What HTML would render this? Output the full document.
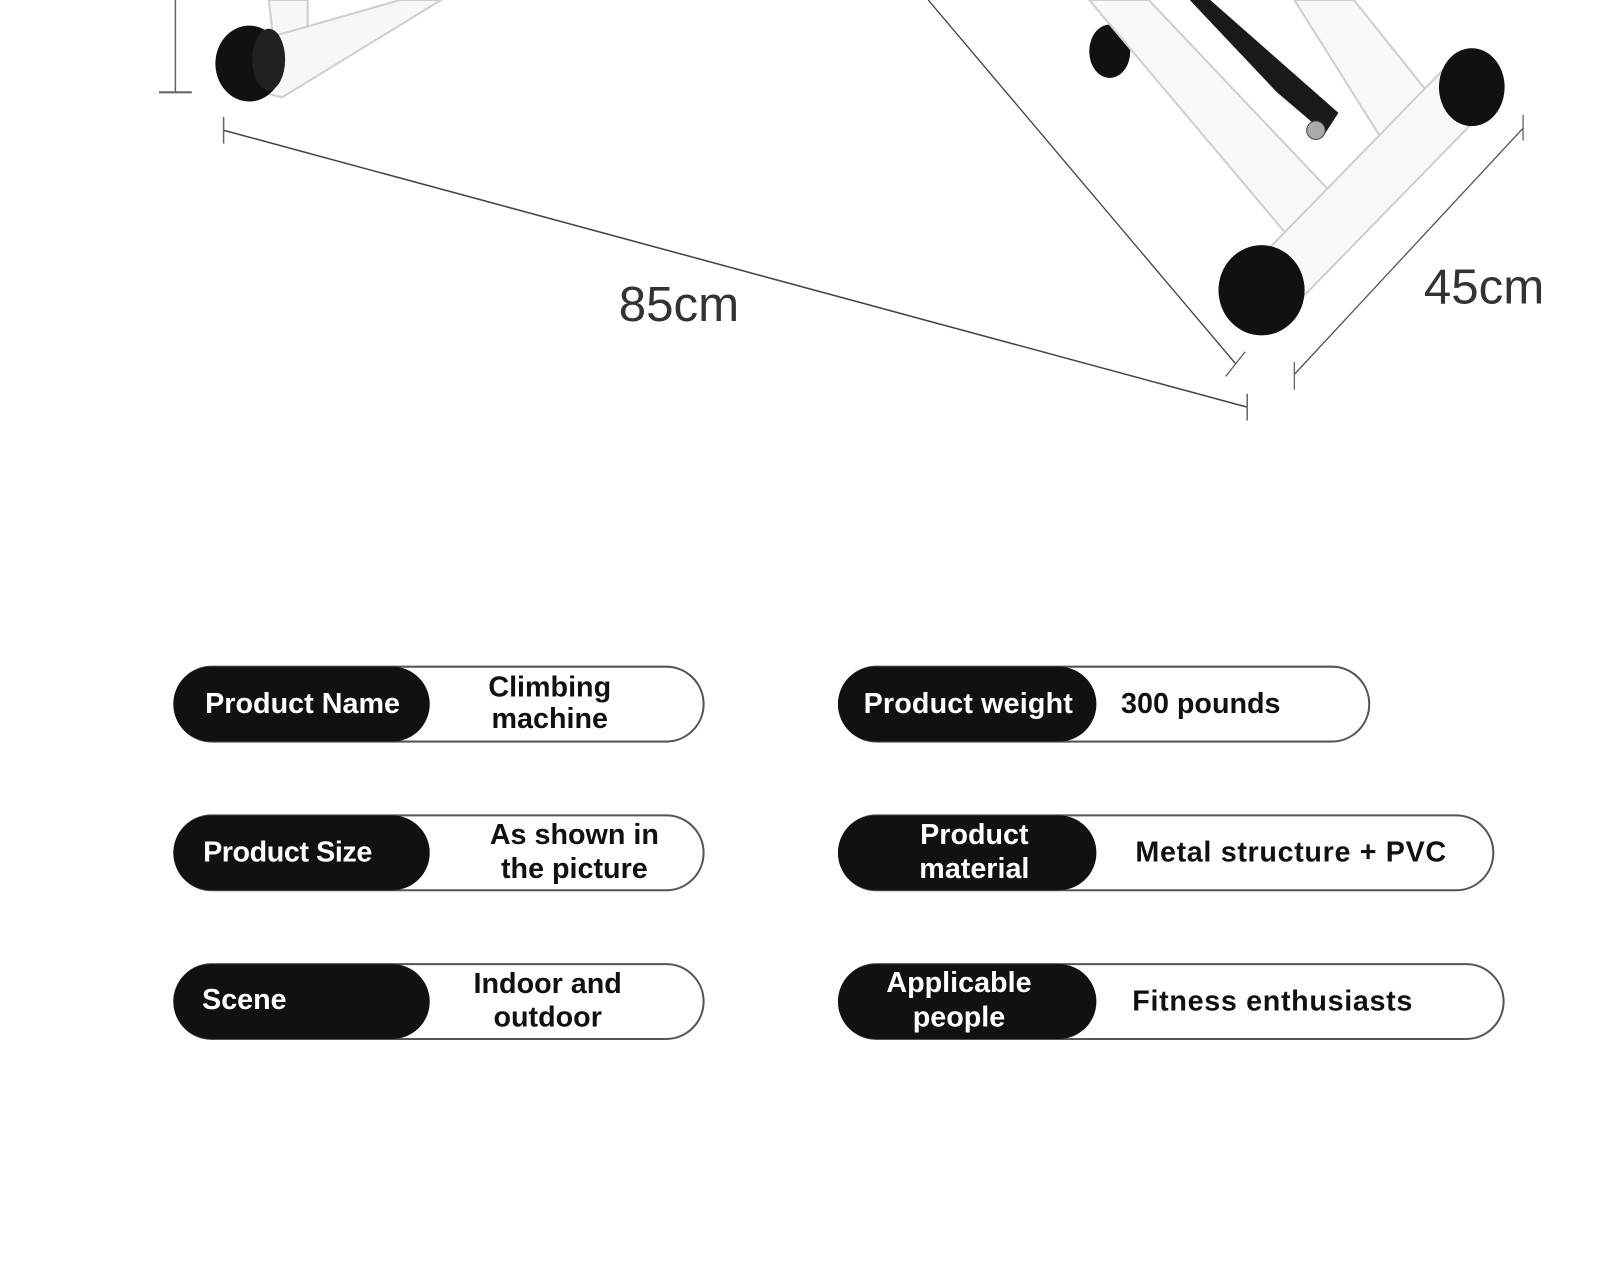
<!DOCTYPE html>
<html><head><meta charset="utf-8"><style>
html,body{margin:0;padding:0;background:#fff;}
svg{display:block;}
text{font-family:"Liberation Sans",sans-serif;}
</style></head><body>
<svg width="1600" height="1280" viewBox="0 0 1560 1248" xmlns="http://www.w3.org/2000/svg">
<rect width="1560" height="1248" fill="#fff"/>
<!-- left frame -->
<g stroke="#cfcfcf" stroke-width="2" fill="#f7f7f7">
  <polygon points="262,0 300,0 300,40 268,50"/>
  <polygon points="250,40 390,0 430,0 275,95 255,90"/>
</g>
<ellipse cx="243" cy="62" rx="33" ry="37" fill="#111"/>
<ellipse cx="262" cy="58" rx="16" ry="30" fill="#222"/>
<!-- left vertical dim -->
<line x1="171" y1="0" x2="171" y2="90" stroke="#666" stroke-width="1.5"/>
<line x1="155" y1="90" x2="187" y2="90" stroke="#666" stroke-width="2"/>
<!-- 85cm dim -->
<line x1="218" y1="127" x2="1216" y2="397" stroke="#444" stroke-width="1.5"/>
<line x1="218" y1="114" x2="218" y2="140" stroke="#666" stroke-width="1.5"/>
<line x1="1216" y1="384" x2="1216" y2="410" stroke="#666" stroke-width="1.5"/>
<text x="662" y="313" font-size="48" fill="#333" text-anchor="middle">85cm</text>
<!-- diagonal from top -->
<line x1="905" y1="0" x2="1205" y2="355" stroke="#444" stroke-width="1.3"/>
<line x1="1195" y1="367" x2="1214" y2="343" stroke="#666" stroke-width="1.3"/>
<!-- 45cm dim -->
<line x1="1485" y1="125" x2="1262" y2="365" stroke="#555" stroke-width="1.3"/>
<line x1="1485" y1="112" x2="1485" y2="137" stroke="#666" stroke-width="1.3"/>
<line x1="1262" y1="353" x2="1262" y2="380" stroke="#666" stroke-width="1.3"/>
<text x="1447" y="296" font-size="48" fill="#333" text-anchor="middle">45cm</text>
<!-- right frame -->
<ellipse cx="1082" cy="50" rx="20" ry="26" fill="#111"/>
<g stroke="#cfcfcf" stroke-width="2" fill="#f8f8f8">
  <polygon points="1062,0 1120,0 1300,190 1260,235"/>
  <polygon points="1262,0 1320,0 1400,100 1350,140"/>
  <polygon points="1215,265 1415,60 1455,100 1260,300"/>
</g>
<polygon points="1160,0 1180,0 1305,110 1292,130 1245,90" fill="#1a1a1a"/>
<circle cx="1283" cy="127" r="9" fill="#aaa" stroke="#444"/>
<ellipse cx="1435" cy="85" rx="32" ry="38" fill="#111"/>
<ellipse cx="1230" cy="283" rx="42" ry="44" fill="#111"/>
<!-- pills left -->
<g font-weight="bold" font-size="28">
  <rect x="170" y="650" width="516" height="73" rx="36.5" fill="#fff" stroke="#555" stroke-width="2"/>
  <rect x="169" y="650" width="250" height="73" rx="36.5" fill="#111"/>
  <text x="200" y="695" fill="#fff" textLength="190">Product Name</text>
  <text x="536" y="679" fill="#111" text-anchor="middle">Climbing</text>
  <text x="536" y="710" fill="#111" text-anchor="middle">machine</text>

  <rect x="170" y="795" width="516" height="73" rx="36.5" fill="#fff" stroke="#555" stroke-width="2"/>
  <rect x="169" y="795" width="250" height="73" rx="36.5" fill="#111"/>
  <text x="198" y="840" fill="#fff" textLength="165">Product Size</text>
  <text x="560" y="823" fill="#111" text-anchor="middle">As shown in</text>
  <text x="560" y="856" fill="#111" text-anchor="middle">the picture</text>

  <rect x="170" y="940" width="516" height="73" rx="36.5" fill="#fff" stroke="#555" stroke-width="2"/>
  <rect x="169" y="940" width="250" height="73" rx="36.5" fill="#111"/>
  <text x="197" y="984" fill="#fff">Scene</text>
  <text x="534" y="968" fill="#111" text-anchor="middle">Indoor and</text>
  <text x="534" y="1001" fill="#111" text-anchor="middle">outdoor</text>
  <!-- right -->
  <rect x="818" y="650" width="517" height="73" rx="36.5" fill="#fff" stroke="#555" stroke-width="2"/>
  <rect x="817" y="650" width="252" height="73" rx="36.5" fill="#111"/>
  <text x="842" y="695" fill="#fff" textLength="204">Product weight</text>
  <text x="1093" y="695" fill="#111">300 pounds</text>

  <rect x="818" y="795" width="638" height="73" rx="36.5" fill="#fff" stroke="#555" stroke-width="2"/>
  <rect x="817" y="795" width="252" height="73" rx="36.5" fill="#111"/>
  <text x="950" y="823" fill="#fff" text-anchor="middle">Product</text>
  <text x="950" y="856" fill="#fff" text-anchor="middle">material</text>
  <text x="1107" y="840" fill="#111" textLength="303">Metal structure + PVC</text>

  <rect x="818" y="940" width="648" height="73" rx="36.5" fill="#fff" stroke="#555" stroke-width="2"/>
  <rect x="817" y="940" width="252" height="73" rx="36.5" fill="#111"/>
  <text x="935" y="967" fill="#fff" text-anchor="middle">Applicable</text>
  <text x="935" y="1001" fill="#fff" text-anchor="middle">people</text>
  <text x="1104" y="985" fill="#111" textLength="273">Fitness enthusiasts</text>
</g>
</svg>
</body></html>
